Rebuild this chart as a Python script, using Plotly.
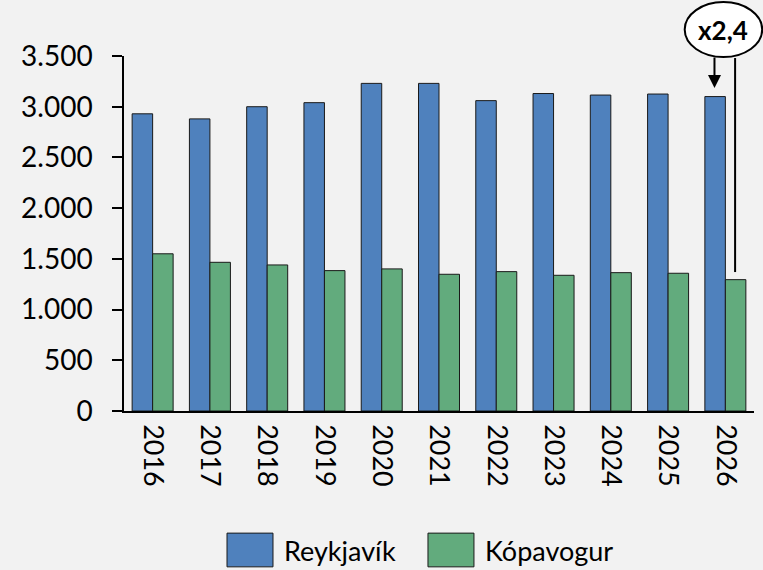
import plotly.graph_objects as go

years = ["2016", "2017", "2018", "2019", "2020", "2021", "2022", "2023", "2024", "2025", "2026"]
reykjavik = [2930, 2880, 3000, 3040, 3230, 3230, 3060, 3130, 3115, 3125, 3100]
kopavogur = [1550, 1466, 1440, 1384, 1401, 1348, 1374, 1338, 1364, 1358, 1295]
series_names = ["Reykjavík", "Kópavogur"]
ratio_label = "x2,4"

BLUE = "#4f81bd"
GREEN = "#62ab7d"
FONT = "Lato"

fig = go.Figure()
fig.add_trace(go.Bar(x=years, y=reykjavik, name=series_names[0], marker=dict(color=BLUE, line=dict(color="#1a1a1a", width=1))))
fig.add_trace(go.Bar(x=years, y=kopavogur, name=series_names[1], marker=dict(color=GREEN, line=dict(color="#1a1a1a", width=1))))

last = len(years) - 1
# arrow to last Reykjavík bar
fig.add_annotation(x=last - 0.19, y=3185, ax=last - 0.19, ay=3500, xref="x", yref="y", axref="x", ayref="y",
                   showarrow=True, arrowhead=2, arrowsize=1.3, arrowwidth=2, arrowcolor="black", text="")
# line to last Kópavogur bar
fig.add_shape(type="line", xref="x", yref="y", x0=last + 0.17, x1=last + 0.17, y0=kopavogur[-1] + 75, y1=3480,
              line=dict(color="black", width=2))
# ellipse with ratio
fig.add_shape(type="circle", xref="paper", yref="paper", x0=0.890, x1=1.013, y0=0.997, y1=1.152,
              line=dict(color="black", width=2), fillcolor="white", layer="above")
fig.add_annotation(x=(0.890 + 1.013) / 2, y=1.072, xref="paper", yref="paper", xanchor="center", yanchor="middle",
                   text="<b>" + ratio_label + "</b>",
                   showarrow=False, font=dict(family=FONT, size=26, color="black"))

# custom legend
colors = [BLUE, GREEN]
box_x = [0.1635, 0.4825]
for name, c, bx in zip(series_names, colors, box_x):
    fig.add_shape(type="rect", xref="paper", yref="paper", x0=bx, x1=bx + 0.073, y0=-0.439, y1=-0.344,
                  line=dict(color="#1a1a1a", width=1), fillcolor=c)
    fig.add_annotation(x=bx + 0.088, y=-0.392, xref="paper", yref="paper", xanchor="left", yanchor="middle",
                       text=name, showarrow=False, font=dict(family=FONT, size=27, color="black"))

fig.update_layout(
    width=763, height=570,
    margin=dict(l=124, r=9, t=56, b=159, autoexpand=False),
    paper_bgcolor="#f2f2f2", plot_bgcolor="#f2f2f2",
    barmode="group", bargap=0.284, bargroupgap=0,
    showlegend=False,
    separators=",.",
    font=dict(family=FONT, color="black"),
)
fig.update_yaxes(range=[0, 3500], dtick=500, tickformat=",d", showgrid=False, zeroline=False,
                 showline=True, linecolor="black", linewidth=1.5, ticks="outside", ticklen=10,
                 tickcolor="black", tickwidth=1.5, tickfont=dict(family=FONT, size=28),
                 ticklabelstandoff=14, automargin=False)
fig.update_xaxes(type="category", showgrid=False, showline=True, linecolor="black", linewidth=1.5,
                 ticks="", tickangle=90, tickfont=dict(family=FONT, size=27), ticklabelstandoff=6,
                 automargin=False)

fig.write_html("out.html", config={"displayModeBar": False},
               post_script="document.body.style.margin='0';document.body.style.background='#f2f2f2';")
